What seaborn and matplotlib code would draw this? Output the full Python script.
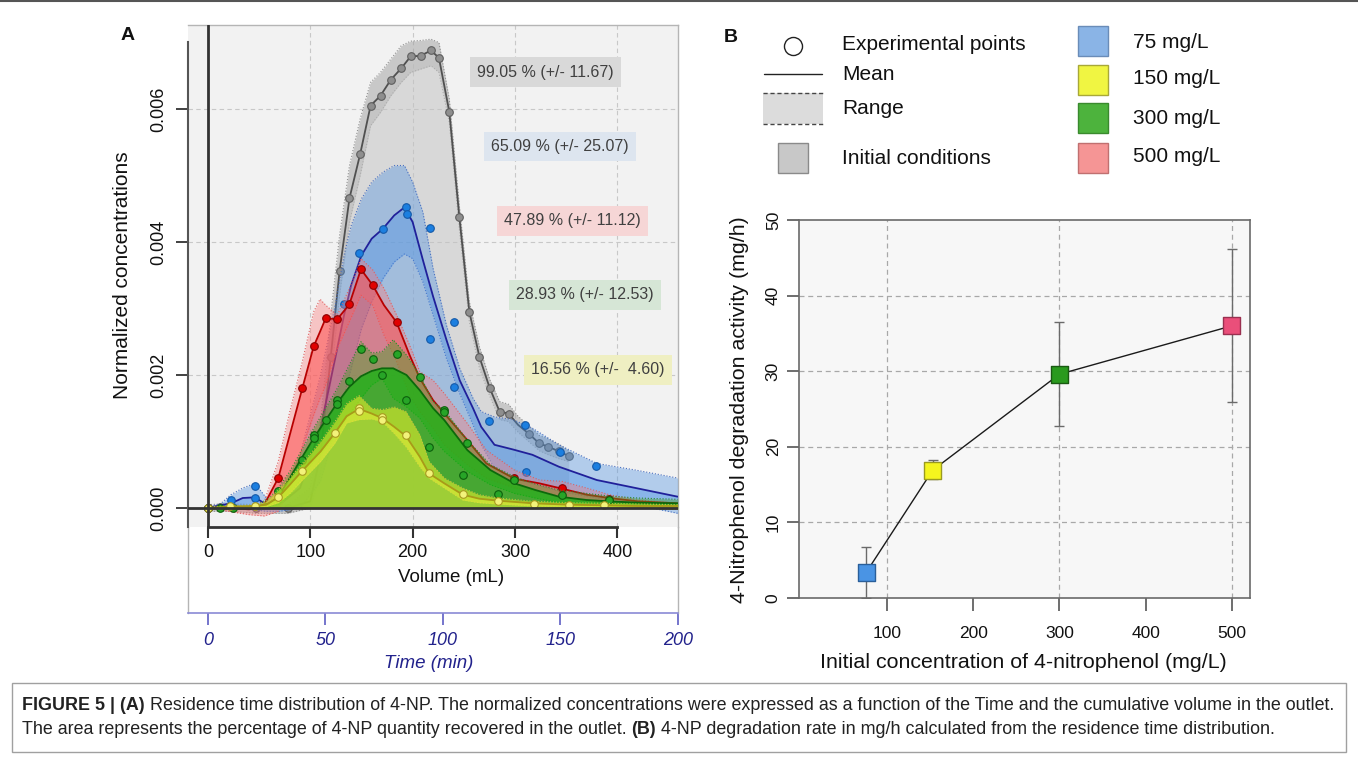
import numpy as np
import matplotlib
matplotlib.use("Agg")
import matplotlib.pyplot as plt
import seaborn as sns
from matplotlib.patches import Rectangle
from matplotlib.lines import Line2D
from matplotlib import font_manager

W, H = 1358, 763
sns.set_theme(style="white")
plt.rcParams["font.family"] = ["Liberation Sans", "DejaVu Sans"]

# ---------------- Panel A data (volume mL, concentration x 1e-3) ----------------
gray_v = [0, 12, 24, 47, 78, 100, 110, 120, 128.6, 138.3, 148.7, 158.9, 168.6, 178.7, 188.8, 198.0, 207.8,
          217.9, 225.7, 235.8, 245.6, 255.4, 265.3, 275.4, 285.0, 293.7, 303.0, 313.3, 323.8, 332.7, 343.2, 352.5]
gray_mean = [0, 0.02, 0.02, 0.0, 0.0, 0.1, 0.8, 2.27, 3.56, 4.66, 5.32, 6.05, 6.20, 6.44, 6.61, 6.79, 6.80,
             6.88, 6.77, 5.96, 4.38, 2.95, 2.27, 1.80, 1.45, 1.42, 1.25, 1.12, 0.97, 0.92, 0.85, 0.78]
gray_lo = [-0.05, -0.05, -0.05, -0.08, -0.08, 0.0, 0.5, 1.9, 3.2, 4.3, 5.0, 5.75, 5.95, 6.2, 6.4, 6.55, 6.6,
           6.65, 6.55, 5.8, 4.2, 2.8, 2.1, 1.68, 1.33, 1.3, 1.14, 1.0, 0.86, 0.80, 0.74, 0.70]
gray_hi = [0.05, 0.06, 0.06, 0.05, 0.05, 0.3, 1.3, 2.9, 4.1, 5.15, 5.85, 6.4, 6.55, 6.75, 6.95, 7.02, 7.03,
           7.05, 7.0, 6.15, 4.55, 3.1, 2.42, 1.93, 1.6, 1.56, 1.38, 1.24, 1.09, 1.04, 0.96, 0.86]
gray_pts_v = [0, 12, 24, 47, 78, 120, 128.6, 138.3, 148.7, 158.9, 168.6, 178.7, 188.8, 198.0, 207.8, 217.9,
              225.7, 235.8, 245.6, 255.4, 265.3, 275.4, 285.0, 293.7, 313.3, 323.8, 332.7, 343.2, 352.5]
gray_pts_c = [0, 0.02, 0.02, 0.0, 0.0, 2.27, 3.56, 4.66, 5.32, 6.05, 6.20, 6.44, 6.61, 6.79, 6.80, 6.88,
              6.77, 5.96, 4.38, 2.95, 2.27, 1.80, 1.45, 1.42, 1.12, 0.97, 0.92, 0.85, 0.78]

blue_v = [0, 12, 22.5, 34, 46, 57, 70, 90, 110, 125, 133, 140, 150, 160, 171, 182, 192, 200, 210, 220, 233,
          246, 259, 267, 280, 298, 317, 343, 380, 418, 459]
blue_mean = [0, 0.04, 0.07, 0.15, 0.16, 0.05, 0.05, 0.3, 1.2, 2.3, 2.9, 3.35, 3.8, 4.05, 4.2, 4.4, 4.52, 4.3,
             3.73, 3.18, 2.53, 1.92, 1.5, 1.22, 0.95, 0.88, 0.80, 0.62, 0.42, 0.30, 0.17]
blue_lo = [-0.02, -0.02, -0.02, -0.02, -0.03, -0.05, -0.05, 0.0, 0.4, 1.2, 1.7, 2.1, 2.7, 3.1, 3.45, 3.7,
           3.82, 3.75, 3.4, 2.9, 2.25, 1.72, 1.25, 0.95, 0.6, 0.45, 0.37, 0.25, 0.15, 0.05, -0.08]
blue_hi = [0.02, 0.06, 0.2, 0.30, 0.37, 0.15, 0.1, 0.8, 2.0, 3.1, 3.8, 4.25, 4.65, 4.9, 5.05, 5.15, 5.15, 4.9,
           4.45, 3.6, 2.75, 2.1, 1.65, 1.45, 1.37, 1.33, 1.2, 0.95, 0.67, 0.57, 0.45]
blue_pts_v = [0, 22.5, 46, 46, 133.2, 147.6, 171.2, 193.6, 194.2, 217, 217, 240, 240.4, 275, 309.6, 310.4,
              344, 378.8]
blue_pts_c = [0, 0.12, 0.33, 0.15, 3.07, 3.83, 4.20, 4.53, 4.42, 4.21, 2.54, 2.80, 1.82, 1.31, 1.25, 0.54,
              0.84, 0.63]

red_v = [0, 20, 40, 55, 68.7, 80, 92.2, 103.3, 109.5, 115, 126.4, 138.1, 149.5, 161, 172, 184.4, 197, 207,
         220, 231, 253.5, 272, 299.5, 324, 346, 370, 392, 420, 459]
red_mean = [0, 0, -0.02, 0.05, 0.45, 1.1, 1.80, 2.43, 2.65, 2.85, 2.84, 3.06, 3.59, 3.35, 3.05, 2.79, 2.3,
            1.95, 1.62, 1.42, 1.02, 0.67, 0.44, 0.37, 0.29, 0.2, 0.15, 0.1, 0.07]
red_lo = [0, -0.05, -0.1, -0.12, -0.05, 0.3, 0.9, 1.4, 1.65, 1.85, 2.4, 2.8, 3.2, 3.05, 2.6, 2.2, 1.7, 1.45,
          1.2, 0.95, 0.65, 0.45, 0.3, 0.25, 0.18, 0.1, 0.05, 0.0, -0.02]
red_hi = [0, 0.02, 0.02, 0.1, 0.7, 1.45, 2.2, 2.95, 3.14, 3.05, 2.9, 3.3, 3.75, 3.58, 3.3, 2.9, 2.45, 2.05,
          1.92, 1.72, 1.27, 0.87, 0.57, 0.42, 0.40, 0.30, 0.2, 0.12, 0.07]
red_pts_v = [0, 68.7, 92.2, 103.3, 115, 126.4, 138.1, 149.5, 161, 184.4, 299.5, 345.6, 392]
red_pts_c = [0, 0.45, 1.80, 2.43, 2.85, 2.84, 3.06, 3.59, 3.35, 2.79, 0.45, 0.30, 0.14]

green_v = [0, 12, 24, 47, 60, 68.7, 80, 91.5, 103.3, 115, 126.4, 138.1, 149.5, 160, 170, 181, 194, 207, 220,
           231, 253.5, 276, 299.5, 320, 343, 370, 392, 420, 459]
green_mean = [0, 0, 0, 0.02, 0.07, 0.17, 0.45, 0.75, 1.05, 1.32, 1.58, 1.82, 1.98, 2.06, 2.10, 2.10, 2.0,
              1.77, 1.5, 1.32, 0.87, 0.57, 0.37, 0.27, 0.17, 0.12, 0.10, 0.08, 0.07]
green_lo = [-0.02, -0.02, -0.02, 0.0, 0.02, 0.05, 0.2, 0.45, 0.7, 0.9, 1.15, 1.4, 1.65, 1.85, 1.95, 1.65,
            1.52, 1.35, 1.05, 0.85, 0.55, 0.35, 0.22, 0.15, 0.08, 0.04, 0.02, 0.0, -0.02]
green_hi = [0.02, 0.02, 0.02, 0.04, 0.15, 0.3, 0.55, 0.87, 1.2, 1.5, 1.8, 2.15, 2.50, 2.33, 2.35, 2.53, 2.3,
            2.0, 1.6, 1.47, 1.02, 0.65, 0.47, 0.36, 0.27, 0.22, 0.18, 0.15, 0.13]
green_pts_v = [0, 12, 24, 68.7, 91.5, 103.3, 103.3, 115, 126.4, 126.4, 138.1, 149.5, 161, 170.3, 184.4, 193.5,
               207.2, 216, 231, 231, 249, 253.5, 283.4, 299.5, 346, 392]
green_pts_c = [0, 0, 0, 0.25, 0.72, 1.10, 1.05, 1.33, 1.62, 1.56, 1.91, 2.39, 2.24, 2.00, 2.31, 1.62, 1.97,
               0.91, 1.48, 1.44, 0.49, 0.98, 0.21, 0.42, 0.20, 0.12]

yel_v = [0, 22, 46, 57, 68.7, 80, 92.2, 110, 124.1, 135.5, 147.6, 160, 170.3, 182, 193.5, 207, 216, 231, 249,
         265, 283.4, 318, 352.6, 387.4, 420, 459]
yel_mean = [0, 0.02, 0.03, 0.05, 0.16, 0.35, 0.56, 0.85, 1.13, 1.38, 1.49, 1.42, 1.35, 1.22, 1.08, 0.77, 0.52,
            0.37, 0.20, 0.14, 0.11, 0.07, 0.05, 0.04, 0.03, 0.03]
yel_lo = [-0.02, 0.0, 0.0, 0.02, 0.08, 0.22, 0.42, 0.7, 0.98, 1.28, 1.33, 1.34, 1.30, 1.12, 0.92, 0.62, 0.45,
          0.3, 0.12, 0.08, 0.06, 0.03, 0.02, 0.01, 0.0, -0.02]
yel_hi = [0.02, 0.03, 0.05, 0.1, 0.27, 0.45, 0.67, 1.0, 1.3, 1.57, 1.69, 1.5, 1.48, 1.52, 1.45, 1.1, 0.7, 0.45,
          0.3, 0.2, 0.15, 0.1, 0.08, 0.07, 0.06, 0.05]
yel_pts_v = [0, 22, 46, 68.7, 92.2, 124.1, 147.6, 147.6, 170.3, 170.3, 193.5, 216, 249, 283.4, 318.2, 352.6,
             387.4]
yel_pts_c = [0, 0.03, 0.03, 0.16, 0.56, 1.13, 1.51, 1.46, 1.37, 1.33, 1.09, 0.52, 0.21, 0.11, 0.06, 0.05, 0.04]

recovery_labels = ["99.05 % (+/- 11.67)", "65.09 % (+/- 25.07)", "47.89 % (+/- 11.12)",
                   "28.93 % (+/- 12.53)", "16.56 % (+/-  4.60)"]
vol_ticks = [0, 100, 200, 300, 400]
conc_ticks = [0.000, 0.002, 0.004, 0.006]
time_ticks = [0, 50, 100, 150, 200]
FLOW = 2.3  # mL/min, volume -> time

# ---------------- Panel B data ----------------
init_conc = [76, 153, 300, 500]
rate = [3.4, 16.9, 29.6, 36.0]
rate_lo = [0.0, 15.7, 22.8, 25.9]
rate_hi = [6.8, 18.2, 36.5, 46.1]
b_xticks = [100, 200, 300, 400, 500]
b_yticks = [0, 10, 20, 30, 40, 50]
legend_labels = ["75 mg/L", "150 mg/L", "300 mg/L", "500 mg/L"]

# ---------------- figure ----------------
fig = plt.figure(figsize=(W / 100, H / 100), dpi=100)
fig.patch.set_facecolor("white")


def fx(x):
    return x / W


def fy(y):
    return 1 - y / H


DARK = "#333333"
NAVY = "#22228c"

# ===== Panel A =====
axA = fig.add_axes([fx(188), fy(527), (678 - 188) / W, (527 - 25) / H])
axA.set_zorder(3)
axA.set_facecolor("#f2f2f2")
axA.set_xlim(-19.5, 459.3)
axA.set_ylim(-0.000286, 0.007263)
for gx in vol_ticks[1:]:
    axA.axvline(gx, color="#c8c8c8", lw=0.8, ls=(0, (4, 3)), zorder=0.5)
for gy in conc_ticks[1:]:
    axA.axhline(gy, color="#c8c8c8", lw=0.8, ls=(0, (4, 3)), zorder=0.5)

series = [
    # v, mean, lo, hi, pts_v, pts_c, band color, band alpha, area color, area alpha, line color, pt face, pt edge, edge line
    (gray_v, gray_mean, gray_lo, gray_hi, gray_pts_v, gray_pts_c,
     "#a0a0a0", 0.5, "#c4c4c4", 0.55, "#505050", "#8e8e8e", "#5e5e5e", "#909090"),
    (blue_v, blue_mean, blue_lo, blue_hi, blue_pts_v, blue_pts_c,
     "#4a8fe0", 0.38, "#3f8be6", 0.35, "#20209a", "#1c7fe0", "#1459a8", "#4a70c0"),
    (red_v, red_mean, red_lo, red_hi, red_pts_v, red_pts_c,
     "#ff7a7a", 0.38, "#ff4a4a", 0.52, "#b80000", "#e00000", "#8a0000", "#e06060"),
    (green_v, green_mean, green_lo, green_hi, green_pts_v, green_pts_c,
     "#4aa02a", 0.45, "#0cb80c", 0.7, "#0b6a0b", "#27a527", "#0c5e0c", "#2a8a2a"),
    (yel_v, yel_mean, yel_lo, yel_hi, yel_pts_v, yel_pts_c,
     "#f3f32a", 0.55, "#e6f03a", 0.55, "#a89a18", "#f2f27a", "#a89a20", "#c8c040"),
]

for i, (v, m, lo, hi, pv, pc, bc, ba, ac, aa, lc, pf, pe, ec) in enumerate(series):
    z = 2 + i * 5
    v = np.asarray(v)
    m = np.asarray(m) * 1e-3
    lo = np.asarray(lo) * 1e-3
    hi = np.asarray(hi) * 1e-3
    axA.fill_between(v, lo, hi, color=bc, alpha=ba, lw=0, zorder=z)
    axA.plot(v, lo, ls=":", lw=0.8, color=ec, zorder=z + 0.5)
    axA.plot(v, hi, ls=":", lw=0.8, color=ec, zorder=z + 0.5)
    axA.fill_between(v, 0, m, color=ac, alpha=aa, lw=0, zorder=z + 1)
    sns.lineplot(x=v, y=m, ax=axA, color=lc, lw=1.3, sort=False, estimator=None, zorder=z + 2)
    sns.scatterplot(x=np.asarray(pv), y=np.asarray(pc) * 1e-3, ax=axA, s=30, color=pf, edgecolor=pe,
                    linewidth=0.8, zorder=z + 3, legend=False)

axA.axhline(0, color=DARK, lw=2.0, zorder=40)
axA.axvline(0, color=DARK, lw=2.0, zorder=40)

for s in ["top", "right"]:
    axA.spines[s].set_color("#b5b5b5")
    axA.spines[s].set_linewidth(1.0)
axA.spines["left"].set_color("#555555")
axA.spines["left"].set_linewidth(1.5)
axA.spines["left"].set_bounds(-0.000286, 0.0070)
axA.spines["bottom"].set_color(DARK)
axA.spines["bottom"].set_linewidth(2.0)
axA.spines["bottom"].set_bounds(0, 400)
axA.set_xticks(vol_ticks)
axA.set_xticklabels([str(t) for t in vol_ticks])
axA.set_yticks(conc_ticks)
axA.set_yticklabels([f"{t:.3f}" for t in conc_ticks])
axA.tick_params(axis="x", direction="out", length=8, width=1.5, color=DARK, pad=4.5, labelsize=13,
                labelcolor="#111111", bottom=True)
axA.tick_params(axis="y", direction="out", length=8.6, width=1.3, color=DARK, pad=6, labelsize=13,
                labelcolor="#111111", left=True)
for lab in axA.get_yticklabels():
    lab.set_rotation(90)
    lab.set_va("center")
    lab.set_ha("right")
axA.set_xlabel("")
axA.set_ylabel("")

fig.text(fx(451), fy(578), "Volume (mL)", ha="center", va="center", fontsize=13.5, color="#111111")
fig.text(fx(123), fy(275), "Normalized concentrations", ha="center", va="center", rotation=90,
         fontsize=15, color="#111111")

# time axis
axT = fig.add_axes([fx(188), fy(613), (678 - 188) / W, (613 - 527) / H])
axT.set_zorder(1)
axT.patch.set_alpha(0.0)
axT.set_xlim(-19.5 / FLOW, 459.3 / FLOW)
axT.set_ylim(0, 1)
axT.set_yticks([])
axT.spines["top"].set_visible(False)
for s in ["left", "right"]:
    axT.spines[s].set_color("#b5b5b5")
    axT.spines[s].set_linewidth(1.0)
axT.spines["bottom"].set_color("#8a8ad6")
axT.spines["bottom"].set_linewidth(1.2)
axT.set_xticks(time_ticks)
axT.set_xticklabels([str(t) for t in time_ticks], fontstyle="italic")
axT.tick_params(axis="x", direction="out", length=8.6, width=1.3, color="#6a6ac8", pad=5, labelsize=13,
                labelcolor=NAVY, bottom=True)
fig.text(fx(429), fy(663), "Time (min)", ha="center", va="center", fontsize=13.5, color=NAVY,
         fontstyle="italic")

# recovery annotation boxes
box_cols = ["#d9d9d9", "#dde5ef", "#f6d6d6", "#d6e6d6", "#efefc2"]
box_pos = [(545, 72), (560, 146.5), (572.5, 221), (584.7, 295), (598, 370)]
for lab, bcol, (bx, by) in zip(recovery_labels, box_cols, box_pos):
    fig.text(fx(bx), fy(by), lab, ha="center", va="center", fontsize=11.5, color="#404040",
             bbox=dict(boxstyle="square,pad=0.45", fc=bcol, ec="none"), zorder=60)

fig.text(fx(128), fy(36), "A", ha="center", va="center", fontsize=14, fontweight="bold", color="#111111")

# ===== Panel B =====
axB = fig.add_axes([fx(799), fy(598), (1250 - 799) / W, (598 - 220) / H])
axB.set_facecolor("#f7f7f7")
axB.set_xlim(-2, 521)
axB.set_ylim(0, 50)
for gx in [100, 300, 500]:
    axB.axvline(gx, color="#a8a8a8", lw=0.9, ls=(0, (4, 3)), zorder=0.5)
for gy in b_yticks[1:-1]:
    axB.axhline(gy, color="#a8a8a8", lw=0.9, ls=(0, (4, 3)), zorder=0.5)

err = np.array([np.array(rate) - np.array(rate_lo), np.array(rate_hi) - np.array(rate)])
axB.errorbar(init_conc, rate, yerr=err, fmt="none", ecolor="#6a6a6a", elinewidth=1.0, capsize=3.5,
             capthick=1.0, zorder=2)
sns.lineplot(x=init_conc, y=rate, ax=axB, color="#1a1a1a", lw=1.0, sort=False, estimator=None, zorder=3)
sq_face = ["#4a94e4", "#f5f51e", "#2a9a1e", "#ea4f7a"]
sq_edge = ["#2a5f9a", "#9a9a20", "#1a5a12", "#9a3050"]
sns.scatterplot(x=init_conc, y=rate, ax=axB, marker="s", s=150, hue=legend_labels,
                palette=dict(zip(legend_labels, sq_face)), edgecolor=sq_edge, linewidth=1.0, zorder=4,
                legend=False)

for s in ["top", "right", "left", "bottom"]:
    axB.spines[s].set_color("#6a6a6a")
    axB.spines[s].set_linewidth(1.2)
axB.set_xticks(b_xticks)
axB.set_xticklabels([str(t) for t in b_xticks])
axB.set_yticks(b_yticks)
axB.set_yticklabels([str(t) for t in b_yticks])
axB.tick_params(axis="x", direction="out", length=9.4, width=1.2, color="#555555", pad=10.5, labelsize=12.5,
                labelcolor="#111111", bottom=True)
axB.tick_params(axis="y", direction="out", length=8.6, width=1.2, color="#555555", pad=4.5, labelsize=12.5,
                labelcolor="#111111", left=True)
for lab in axB.get_yticklabels():
    lab.set_rotation(90)
    lab.set_va("center")
    lab.set_ha("right")
axB.set_xlabel("")
axB.set_ylabel("")
fig.text(fx(1023.5), fy(662), "Initial concentration of 4-nitrophenol (mg/L)", ha="center", va="center",
         fontsize=15.4, color="#111111")
fig.text(fx(740), fy(410), "4-Nitrophenol degradation activity (mg/h)", ha="center", va="center",
         rotation=90, fontsize=15.4, color="#111111")

fig.text(fx(731), fy(37), "B", ha="center", va="center", fontsize=14, fontweight="bold", color="#111111")

# legend (panel B header)
LFS = 15
fig.add_artist(Line2D([fx(793)], [fy(46)], marker="o", ms=13, mfc="white", mec="#222222", mew=1.0,
                      transform=fig.transFigure))
fig.text(fx(842), fy(44), "Experimental points", ha="left", va="center", fontsize=LFS, color="#111111")
fig.add_artist(Line2D([fx(764), fx(822)], [fy(74), fy(74)], color="#222222", lw=1.0,
                      transform=fig.transFigure))
fig.text(fx(842), fy(75), "Mean", ha="left", va="center", fontsize=LFS, color="#111111")
fig.add_artist(Rectangle((fx(763), fy(124)), 60 / W, 31 / H, transform=fig.transFigure, fc="#dcdcdc",
                         ec="none"))
for yy in (93, 124):
    fig.add_artist(Line2D([fx(763), fx(823)], [fy(yy), fy(yy)], color="#444444", lw=1.0, ls=(0, (3, 2)),
                          transform=fig.transFigure))
fig.text(fx(842), fy(108), "Range", ha="left", va="center", fontsize=LFS, color="#111111")
fig.add_artist(Rectangle((fx(778), fy(173)), 30 / W, 30 / H, transform=fig.transFigure, fc="#c8c8c8",
                         ec="#8a8a8a", lw=1.0))
fig.text(fx(842), fy(158), "Initial conditions", ha="left", va="center", fontsize=LFS, color="#111111")

leg_face = ["#8ab4e6", "#f0f542", "#4db33d", "#f59595"]
leg_edge = ["#6a8cb8", "#a8a838", "#3a8a2e", "#c07070"]
leg_top = [26, 65, 103, 143]
leg_text_y = [42, 79, 118, 156]
for lab, fc, ecol, ty, tty in zip(legend_labels, leg_face, leg_edge, leg_top, leg_text_y):
    fig.add_artist(Rectangle((fx(1078), fy(ty + 30)), 30 / W, 30 / H, transform=fig.transFigure, fc=fc,
                             ec=ecol, lw=1.0))
    fig.text(fx(1133), fy(tty), lab, ha="left", va="center", fontsize=LFS, color="#111111")

# top rule
fig.add_artist(Line2D([0, 1], [fy(1), fy(1)], color="#555555", lw=1.5, transform=fig.transFigure))

# ===== Caption =====
fig.add_artist(Rectangle((fx(12), fy(752)), (1346 - 12) / W, (752 - 683) / H, transform=fig.transFigure,
                         fc="none", ec="#a0a0a0", lw=1.0))
names = {f.name for f in font_manager.fontManager.ttflist}
cap_family = "Liberation Sans Narrow" if "Liberation Sans Narrow" in names else "Liberation Sans"
renderer = fig.canvas.get_renderer()

line1 = [("FIGURE 5 | (A)", "bold"),
         ("Residence time distribution of 4-NP. The normalized concentrations were expressed as a function "
          "of the Time and the cumulative volume in the outlet.", "normal")]
line2 = [("The area represents the percentage of 4-NP quantity recovered in the outlet.", "normal"),
         ("(B)", "bold"),
         ("4-NP degradation rate in mg/h calculated from the residence time distribution.", "normal")]


def text_w(s, size, weight):
    t = fig.text(0, 0, s, fontsize=size, fontweight=weight, family=cap_family)
    w = t.get_window_extent(renderer=renderer).width
    t.remove()
    return w


def line_w(parts, size):
    sp = text_w("a a", size, "normal") - text_w("aa", size, "normal")
    return sum(text_w(s, size, w) for s, w in parts) + sp * (len(parts) - 1), sp


w10, _ = line_w(line1, 10)
cap_size = 10 * 1318 / w10


def draw_line(parts, x, y, size):
    _, sp = line_w(parts, size)
    for s, w in parts:
        t = fig.text(fx(x), fy(y), s, fontsize=size, fontweight=w, family=cap_family, ha="left",
                     va="center", color="#222222")
        x += t.get_window_extent(renderer=renderer).width + sp


draw_line(line1, 22, 706, cap_size)
draw_line(line2, 22, 729, cap_size)

fig.savefig("out.png", dpi=100, facecolor="white")
